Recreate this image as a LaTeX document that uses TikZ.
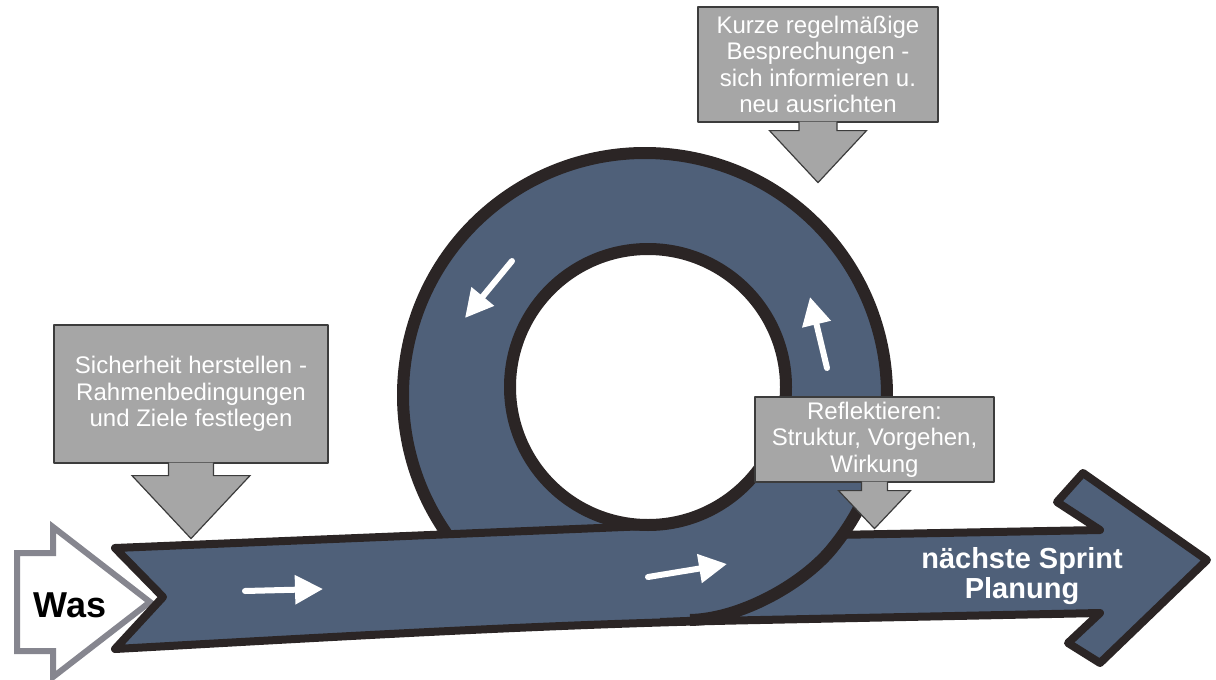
\documentclass[tikz,border=0pt]{standalone}
\usepackage{fontspec}
\setmainfont{Liberation Sans}
\usetikzlibrary{arrows.meta}
\definecolor{loopblue}{HTML}{4F6079}
\definecolor{edgedark}{HTML}{2B2525}
\definecolor{notegray}{HTML}{A6A6A6}
\definecolor{noteline}{HTML}{3C3C3C}
\definecolor{wasgray}{HTML}{86868F}
\begin{document}
\begin{tikzpicture}
  [x=1pt,y=-1pt,line join=round,
   note/.style={rectangle,fill=notegray,draw=noteline,line width=1.2pt,text=white,align=center,inner sep=0pt,font=\fontsize{24}{26.5}\selectfont},
   pointer/.style={fill=notegray,draw=noteline,line width=1.2pt,line join=miter},
   flow/.style={white,line width=6pt,line cap=round,-{Triangle[length=28pt,width=28pt]}},
   bandline/.style={draw=edgedark,line width=8pt},
   loopline/.style={draw=edgedark,line width=12pt}]
  \path[use as bounding box] (0,0) rectangle (1216,680);
  % was arrow
  \draw[fill=white,draw=wasgray,line width=6pt,line join=miter] (17,553) -- (53,553) -- (53,527) -- (150,602) -- (53,677) -- (53,651) -- (17,651) -- cycle;
  \node (was) at (70,605) {\fontsize{36}{40}\selectfont\bfseries Was};
  % band and loop
  \coordinate (c) at (645,395);
  \path (c) ++(35.3:242) coordinate (shaft);
  \path (c) ++(145.2:242) coordinate (leg);
  \fill[loopblue] (115,548) -- (163,597) -- (115,649) .. controls (350,636) and (550,624) .. (760,620) -- (1100,613) -- (1068,643) -- (1100,663) -- (1207,560) -- (1083,473) -- (1057,502) -- (1100,530) -- (shaft) arc[start angle=35.3,end angle=-214.8,radius=242] -- cycle;
  \draw[loopline,fill=white] (648,387) circle[radius=138];
  \draw[bandline] (648,526) -- (115,548) -- (163,597) -- (115,649) .. controls (350,636) and (550,624) .. (760,620) -- (1100,613) -- (1068,643) -- (1100,663) -- (1207,560) -- (1083,473) -- (1057,502) -- (1100,530) -- (shaft);
  \draw[loopline] (leg) arc[start angle=145.2,end angle=400,radius=242] .. controls (801,585) and (740,619) .. (690,620);
  \draw[bandline] (740,619) -- (660,622);
  \node (next)[text=white,align=center,font=\fontsize{29}{30.5}\selectfont\bfseries] at (1022,576) {nächste Sprint\\Planung};
  % direction arrows
  \coordinate (f1a) at (245,591);
  \coordinate (f1b) at (323,589);
  \coordinate (f2a) at (648,577);
  \coordinate (f2b) at (727,564);
  \coordinate (f3a) at (827,368);
  \coordinate (f3b) at (810,297);
  \coordinate (f4a) at (512,261);
  \coordinate (f4b) at (465,318);
  \foreach \from/\to in {f1a/f1b,f2a/f2b,f3a/f3b,f4a/f4b}
    \draw[flow] (\from) -- (\to);
  % callouts
  \node (b1)[note,minimum width=274pt,minimum height=138pt] at (191,394) {Sicherheit herstellen -\\Rahmenbedingungen\\und Ziele festlegen};
  \node (b2)[note,minimum width=240pt,minimum height=115pt] at (818,64.5) {Kurze regelmäßige\\Besprechungen -\\sich informieren u.\\neu ausrichten};
  \node (b3)[note,minimum width=239pt,minimum height=85pt] at (874.5,439.5) {Reflektieren:\\Struktur, Vorgehen,\\Wirkung};
  \foreach \b/\s/\l/\h/\t in {b1/22.5/12/59/63,b2/19/8/48.5/52,b3/13/8/36/38}
    \filldraw[pointer] (\b.south) ++(-\s,-1) -- ++(0,{\l+1}) -- ++({\s-\h},0) -- ++(\h,\t) -- ++(\h,-\t) -- ++({\s-\h},0) -- ++(0,{-\l-1});
\end{tikzpicture}
\end{document}
